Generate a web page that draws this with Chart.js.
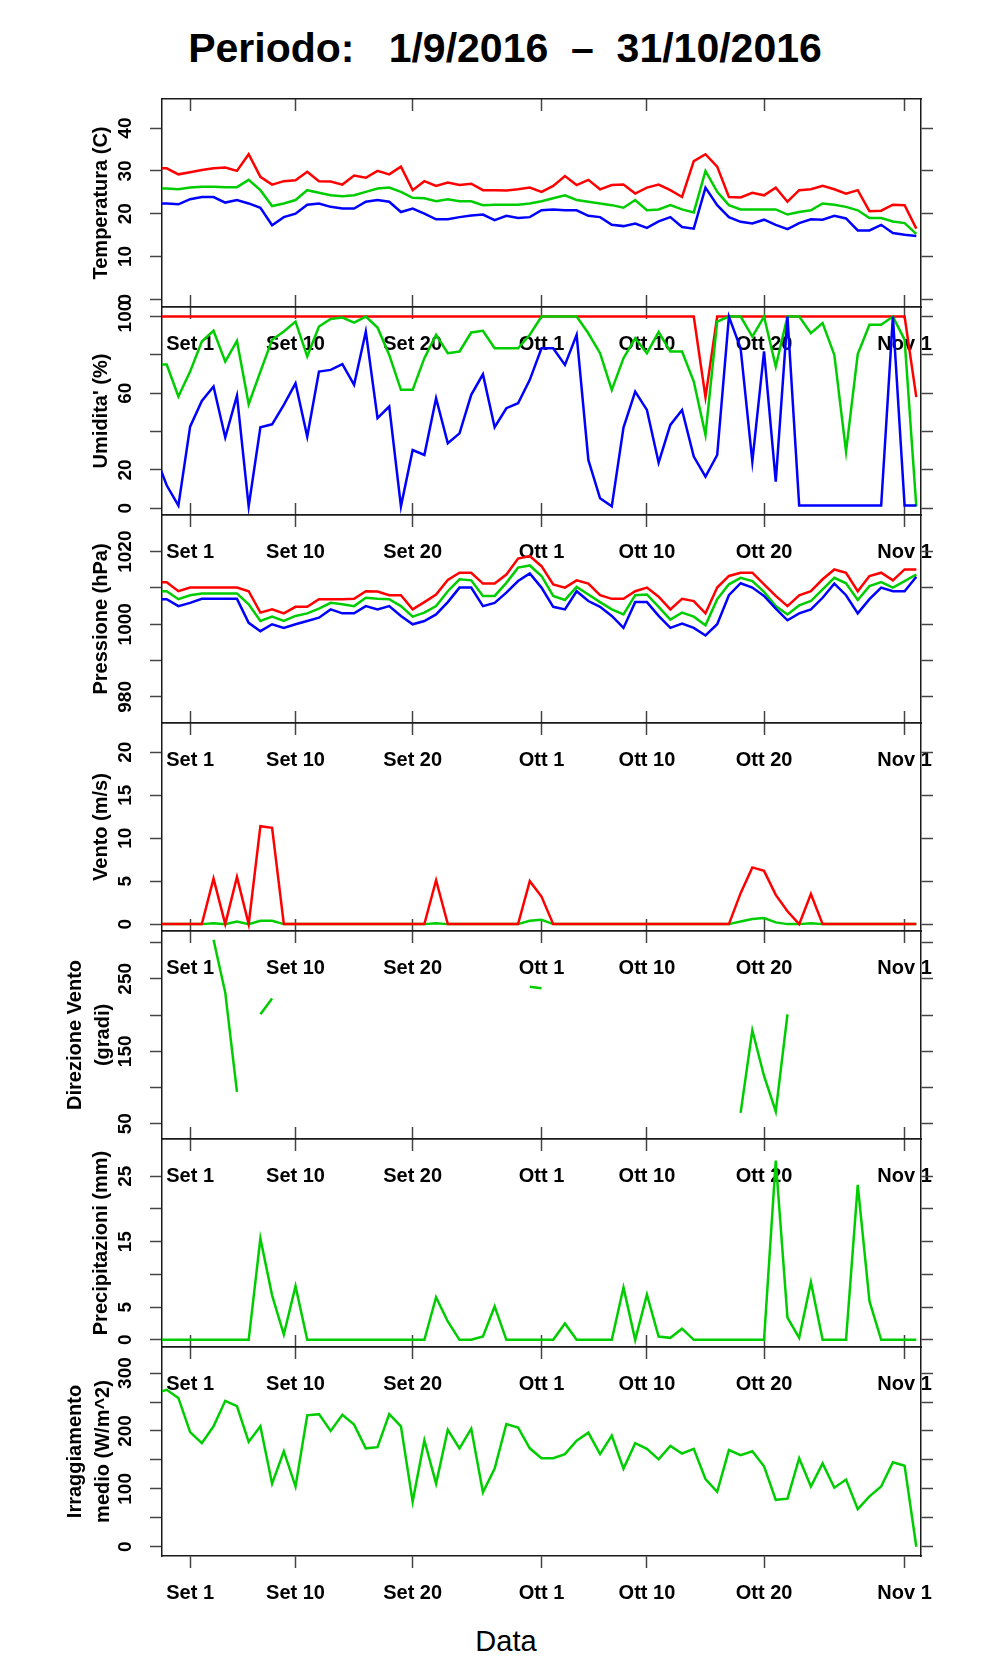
<!DOCTYPE html>
<html>
<head>
<meta charset="utf-8">
<title>Periodo 1/9/2016 - 31/10/2016</title>
<script src="https://cdn.jsdelivr.net/npm/chart.js"></script>
<style>
    body {
        margin: 0;
        background: #fff;
        font-family: "Liberation Sans", Arial, sans-serif;
    }
    #page {
        position: relative;
        width: 996px;
        height: 1680px;
        overflow: hidden;
        background: #fff;
    }
    .panel {
        position: absolute;
        left: 0;
    }
    #titolo {
        position: absolute;
        left: 0;
        top: 28px;
        width: 1010px;
        text-align: center;
        font-weight: bold;
        font-size: 41px;
        line-height: 41px;
        white-space: pre;
    }
    #data {
        position: absolute;
        left: 0;
        top: 1627px;
        width: 1012px;
        text-align: center;
        font-size: 29px;
        line-height: 29px;
    }
</style>
</head>
<body>

<div id="page">
    <div id="titolo">Periodo:   1/9/2016  –  31/10/2016</div>
    <div id="data">Data</div>
</div>

<script>
// giorni contati dal 1 settembre 2016 (-3 = 29 agosto ... 62 = 2 novembre)
const days = Array.from({ length: 66 }, (_, i) => i - 3);
const xTickDays = [0, 9, 19, 30, 39, 49, 61];
const xTickLabels = ['Set 1', 'Set 10', 'Set 20', 'Ott 1', 'Ott 10', 'Ott 20', 'Nov 1'];

// Temperatura (C)
const tempMax = [30.6, 30.6, 29.2, 29.7, 30.2, 30.6, 30.8, 30.0, 33.9, 28.6,
    26.8, 27.6, 27.8, 29.8, 27.6, 27.5, 26.8, 28.9, 28.4, 30.0,
    29.2, 31.0, 25.5, 27.6, 26.5, 27.3, 26.7, 27.0, 25.5, 25.5,
    25.4, 25.7, 26.1, 25.1, 26.5, 28.8, 26.7, 27.9, 25.7, 26.7,
    26.8, 24.7, 26.1, 26.8, 25.5, 23.9, 32.3, 33.9, 31.0, 23.9,
    23.8, 24.9, 24.3, 26.1, 22.8, 25.5, 25.7, 26.5, 25.7, 24.7,
    25.5, 20.6, 20.7, 22.1, 22.0, 16.5];
const tempMed = [25.9, 25.9, 25.7, 26.1, 26.3, 26.3, 26.2, 26.2, 27.9, 25.5,
    21.8, 22.4, 23.2, 25.5, 24.9, 24.3, 24.1, 24.3, 25.1, 25.9,
    26.1, 25.1, 23.7, 23.6, 22.9, 23.4, 22.9, 22.9, 22.0, 22.1,
    22.1, 22.1, 22.4, 22.9, 23.6, 24.3, 23.2, 22.8, 22.4, 22.0,
    21.4, 23.2, 20.8, 21.0, 22.0, 21.0, 20.3, 30.0, 25.1, 22.0,
    21.0, 21.0, 21.0, 21.0, 19.8, 20.4, 20.8, 22.4, 22.1, 21.6,
    20.8, 19.0, 19.0, 18.2, 17.8, 15.3];
const tempMin = [22.4, 22.4, 22.2, 23.4, 23.9, 23.9, 22.6, 23.2, 22.4, 21.4,
    17.3, 19.2, 20.0, 22.1, 22.4, 21.6, 21.2, 21.2, 22.8, 23.2,
    22.8, 20.4, 21.2, 20.0, 18.7, 18.7, 19.2, 19.6, 19.8, 18.5,
    19.5, 19.0, 19.2, 20.8, 21.0, 20.8, 20.8, 19.5, 19.2, 17.4,
    17.1, 17.7, 16.7, 18.2, 19.2, 16.9, 16.5, 26.1, 22.0, 19.2,
    18.1, 17.7, 18.6, 17.4, 16.4, 17.8, 18.7, 18.6, 19.5, 18.9,
    16.1, 16.1, 17.4, 15.5, 15.1, 14.8];

// Umidita' (%)
const umidMax = [100, 100, 100, 100, 100, 100, 100, 100, 100, 100,
    100, 100, 100, 100, 100, 100, 100, 100, 100, 100,
    100, 100, 100, 100, 100, 100, 100, 100, 100, 100,
    100, 100, 100, 100, 100, 100, 100, 100, 100, 100,
    100, 100, 100, 100, 100, 100, 100, 58, 100, 100,
    100, 100, 100, 100, 100, 100, 100, 100, 100, 100,
    100, 100, 100, 100, 100, 58];
const umidMed = [75, 75, 58.3, 71.3, 87.0, 92.6, 76.5, 87.3, 54.3, 71.3,
    87.9, 92.2, 97.4, 79.2, 94.8, 98.8, 99.5, 96.9, 100, 94.3,
    80.0, 61.8, 61.8, 78.3, 90.5, 80.9, 81.8, 91.7, 92.6, 83.5,
    83.5, 83.5, 90.5, 100, 100, 100, 100, 91.3, 80.9, 61.8,
    78.3, 88.7, 80.9, 91.9, 81.8, 81.8, 66.1, 38.3, 97.4, 100,
    100, 89.6, 100, 73.9, 100, 100, 91.3, 96.6, 80.0, 29.6,
    80.4, 95.7, 95.7, 100, 88, 1];
const umidMin = [28, 12, 1.4, 42.6, 56.0, 63.5, 36.9, 58.8, 1, 42.3,
    43.8, 53.9, 65.2, 37.4, 71.3, 72.2, 75.2, 64.4, 92.2, 47.0,
    53.1, 1, 30.4, 27.8, 57.4, 33.9, 39.1, 59.2, 69.9, 42.3,
    52.2, 54.8, 67.0, 83.5, 83.5, 74.8, 90.5, 25.2, 5.2, 1,
    42.1, 60.9, 51.3, 23.8, 43.5, 51.3, 27.0, 16.5, 27.8, 100,
    83.5, 24.4, 81.8, 13.9, 100, 1.4, 1.4, 1.4, 1.4, 1.4,
    1.4, 1.4, 1.4, 100, 1.4, 1.4];

// Pressione (hPa)
const pressMax = [1011.6, 1011.6, 1009.1, 1010.1, 1010.1, 1010.1, 1010.1, 1010.1, 1009.1, 1003.2,
    1004.1, 1003.0, 1004.8, 1004.8, 1006.9, 1006.9, 1006.9, 1007.0, 1009.1, 1009.0,
    1008.0, 1008.0, 1004.1, 1006.1, 1008.2, 1012.2, 1014.2, 1014.2, 1011.2, 1011.2,
    1013.7, 1018.1, 1018.8, 1016.0, 1011.0, 1010.1, 1012.1, 1011.2, 1008.0, 1007.0,
    1007.0, 1009.1, 1010.1, 1007.6, 1004.1, 1007.0, 1006.4, 1003.0, 1010.1, 1013.3,
    1014.2, 1014.2, 1011.0, 1007.8, 1005.0, 1008.0, 1009.1, 1012.4, 1015.1, 1014.2,
    1009.1, 1013.3, 1014.2, 1012.1, 1015.1, 1015.1];
const pressMed = [1009.1, 1009.1, 1006.9, 1008.0, 1008.5, 1008.5, 1008.5, 1008.5, 1005.5, 1000.9,
    1002.1, 1000.9, 1002.3, 1003.0, 1004.3, 1005.9, 1005.5, 1005.0, 1007.3, 1007.0,
    1006.9, 1005.0, 1002.1, 1003.2, 1005.0, 1009.1, 1012.4, 1012.1, 1007.8, 1007.8,
    1011.4, 1015.6, 1016.2, 1013.3, 1007.8, 1006.7, 1010.3, 1008.2, 1006.1, 1004.1,
    1002.7, 1008.0, 1008.2, 1004.8, 1001.3, 1003.2, 1002.1, 999.7, 1006.9, 1011.0,
    1012.8, 1011.9, 1008.9, 1005.0, 1002.7, 1005.2, 1006.4, 1009.6, 1012.8, 1011.3,
    1006.7, 1010.5, 1011.6, 1010.1, 1011.9, 1013.7];
const pressMin = [1006.9, 1006.9, 1005.0, 1005.9, 1007.0, 1007.0, 1007.0, 1007.0, 1000.4, 998.1,
    1000.0, 999.0, 1000.0, 1000.9, 1001.8, 1004.1, 1003.0, 1003.0, 1005.0, 1004.1,
    1005.0, 1002.3, 1000.0, 1000.9, 1002.7, 1006.1, 1010.1, 1010.1, 1005.0, 1005.9,
    1008.7, 1011.9, 1014.0, 1010.1, 1004.8, 1004.1, 1009.1, 1006.4, 1004.8, 1002.3,
    999.0, 1006.1, 1006.1, 1002.3, 999.0, 1000.2, 999.0, 996.9, 1000.0, 1008.0,
    1011.3, 1010.1, 1007.8, 1004.3, 1001.1, 1003.0, 1004.1, 1007.3, 1011.2, 1008.0,
    1003.0, 1006.9, 1010.1, 1009.1, 1009.1, 1013.1];

// Vento (m/s)
const ventoMax = [0, 0, 0, 0, 0, 5.3, 0, 5.5, 0, 11.4,
    11.2, 0, 0, 0, 0, 0, 0, 0, 0, 0,
    0, 0, 0, 0, 5.1, 0, 0, 0, 0, 0,
    0, 0, 5.0, 3.2, 0, 0, 0, 0, 0, 0,
    0, 0, 0, 0, 0, 0, 0, 0, 0, 0,
    3.6, 6.6, 6.2, 3.4, 1.5, 0, 3.5, 0, 0, 0,
    0, 0, 0, 0, 0, 0];
const ventoMed = [0, 0, 0, 0, 0, 0.1, 0, 0.3, 0, 0.4,
    0.4, 0, 0, 0, 0, 0, 0, 0, 0, 0,
    0, 0, 0, 0, 0.1, 0, 0, 0, 0, 0,
    0, 0, 0.4, 0.5, 0, 0, 0, 0, 0, 0,
    0, 0, 0, 0, 0, 0, 0, 0, 0, 0,
    0.3, 0.6, 0.7, 0.2, 0, 0, 0.1, 0, 0, 0,
    0, 0, 0, 0, 0, 0];

// Direzione vento (gradi), null = calma
const direzione = [null, null, null, null, null, 304, 231, 94, null, 201,
    223, null, null, null, null, null, null, null, null, null,
    null, null, null, null, null, null, null, null, null, null,
    null, null, 239, 237, null, null, null, null, null, null,
    null, null, null, null, null, null, null, null, null, null,
    65, 179, 116, 67, 201, null, null, null, null, null,
    null, null, null, null, null, null];

// Precipitazioni (mm)
const pioggia = [0, 0, 0, 0, 0, 0, 0, 0, 0, 15.5,
    6.8, 0.8, 8.2, 0, 0, 0, 0, 0, 0, 0,
    0, 0, 0, 0, 6.5, 2.8, 0, 0, 0.5, 5.1,
    0, 0, 0, 0, 0, 2.5, 0, 0, 0, 0,
    8.0, 0, 6.9, 0.5, 0.3, 1.7, 0, 0, 0, 0,
    0, 0, 0, 27.4, 3.4, 0.3, 8.8, 0, 0, 0,
    23.7, 5.9, 0, 0, 0, 0];

// Irraggiamento medio (W/m^2)
const irragg = [265, 271, 257, 198, 179, 208, 252, 243, 181, 208,
    109, 165, 104, 227, 229, 200, 228, 211, 170, 172,
    229, 208, 78, 184, 109, 202, 170, 204, 94, 135,
    212, 206, 170, 153, 153, 160, 183, 197, 160, 192,
    135, 179, 169, 151, 174, 161, 169, 117, 95, 167,
    158, 165, 139, 81, 83, 153, 104, 144, 102, 116,
    65, 87, 104, 146, 140, 0];

// tacche e etichette asse y
const tempTicks = [0, 10, 20, 30, 40];
const tempTickLabels = [0, 10, 20, 30, 40];
const umidTicks = [0, 20, 40, 60, 80, 100];
const umidTickLabels = [0, 20, 60, 100];
const pressTicks = [980, 990, 1000, 1010, 1020];
const pressTickLabels = [980, 1000, 1020];
const ventoTicks = [0, 5, 10, 15, 20];
const ventoTickLabels = [0, 5, 10, 15, 20];
const direzTicks = [50, 100, 150, 200, 250, 300];
const direzTickLabels = [50, 150, 250];
const pioggiaTicks = [0, 5, 10, 15, 20, 25];
const pioggiaTickLabels = [0, 5, 15, 25];
const irrTicks = [0, 50, 100, 150, 200, 250, 300];
const irrTickLabels = [0, 100, 200, 300];

const RED = '#ff0000';
const GREEN = '#00cd00';
const BLUE = '#0000ff';
const BOX = '#1a1a1a';
const TICK = '#444';
const FONT = '"Liberation Sans", Arial, sans-serif';
const Y_TICK_SIZE = 19;

// bordi verticali dei pannelli (px)
const bounds = [99, 307, 515, 723, 931, 1139, 1347, 1556];
const PAD_TOP = 40;
const X_AXIS_H = 70;
const LEFT_W = 162;
const RIGHT_W = 75;

// Chart.js disegna per ultima (sopra) la prima serie dell'elenco
const panels = [
    { title: 'Temperatura (C)', min: -1.8, max: 46.8, ticks: tempTicks, labels: tempTickLabels,
      series: [[tempMin, BLUE], [tempMed, GREEN], [tempMax, RED]] },
    { title: "Umidita' (%)", min: -3.5, max: 105, ticks: umidTicks, labels: umidTickLabels,
      series: [[umidMin, BLUE], [umidMed, GREEN], [umidMax, RED]] },
    { title: 'Pressione (hPa)', min: 972.8, max: 1030.1, ticks: pressTicks, labels: pressTickLabels,
      series: [[pressMin, BLUE], [pressMed, GREEN], [pressMax, RED]] },
    { title: 'Vento (m/s)', min: -0.8, max: 23.4, ticks: ventoTicks, labels: ventoTickLabels,
      series: [[ventoMax, RED], [ventoMed, GREEN]] },
    { title: ['Direzione Vento', '(gradi)'], min: 29, max: 316, ticks: direzTicks, labels: direzTickLabels,
      series: [[direzione, GREEN]] },
    { title: 'Precipitazioni (mm)', min: -1.1, max: 30.7, ticks: pioggiaTicks, labels: pioggiaTickLabels,
      series: [[pioggia, GREEN]] },
    { title: ['Irraggiamento', 'medio (W/m^2)'], min: -16, max: 345, ticks: irrTicks, labels: irrTickLabels,
      series: [[irragg, GREEN]] }
];

const measureCtx = document.createElement('canvas').getContext('2d');
function widestLabel(labels) {
    measureCtx.font = 'bold ' + Y_TICK_SIZE + 'px ' + FONT;
    return Math.max(...labels.map(l => measureCtx.measureText(String(l)).width));
}

function makePanel(i, cfg) {
    const last = i === panels.length - 1;
    const plotH = bounds[i + 1] - bounds[i];
    const div = document.createElement('div');
    div.className = 'panel';
    div.style.top = (bounds[i] - PAD_TOP) + 'px';
    const canvas = document.createElement('canvas');
    canvas.width = 996;
    canvas.height = PAD_TOP + plotH + X_AXIS_H;
    div.appendChild(canvas);
    document.getElementById('page').appendChild(div);

    const twoLines = Array.isArray(cfg.title);
    const titleLine = twoLines ? 28 : 24;
    const titleFirst = twoLines ? 75.5 : 101;

    const xCommon = {
        type: 'linear',
        min: -2.4,
        max: 62.4,
        bounds: 'data',
        afterBuildTicks: s => { s.ticks = xTickDays.map(v => ({ value: v })); },
        border: { color: BOX, width: 1.5 }
    };
    const yCommon = {
        min: cfg.min,
        max: cfg.max,
        bounds: 'data',
        afterBuildTicks: s => { s.ticks = cfg.ticks.map(v => ({ value: v })); },
        border: { color: BOX, width: 1.5 },
        grid: { drawOnChartArea: false, tickLength: 12, tickColor: TICK, tickWidth: 1.5 }
    };

    new Chart(canvas, {
        type: 'line',
        data: {
            datasets: cfg.series.map(([vals, color]) => ({
                data: days.map((d, k) => ({ x: d, y: vals[k] })),
                borderColor: color,
                borderWidth: 2.5,
                pointRadius: 0,
                tension: 0,
                fill: false,
                spanGaps: false
            }))
        },
        options: {
            responsive: false,
            animation: false,
            layout: { padding: { top: PAD_TOP, left: 0, right: 0, bottom: 0 }, autoPadding: false },
            plugins: { legend: { display: false }, tooltip: { enabled: false } },
            scales: {
                x: Object.assign({}, xCommon, {
                    position: 'bottom',
                    afterFit: s => { s.height = X_AXIS_H; },
                    grid: { drawOnChartArea: false, tickLength: last ? 12 : -12, tickColor: TICK, tickWidth: 1.5 },
                    ticks: {
                        autoSkip: false,
                        maxRotation: 0,
                        padding: last ? 13 : 37,
                        color: '#000',
                        font: { family: FONT, size: 20, weight: 'bold', lineHeight: 1.2 },
                        callback: v => xTickLabels[xTickDays.indexOf(v)]
                    }
                }),
                x2: Object.assign({}, xCommon, {
                    position: 'top',
                    afterFit: s => { s.height = 0; },
                    grid: { drawOnChartArea: false, tickLength: -12, tickColor: TICK, tickWidth: 1.5 },
                    ticks: { display: false }
                }),
                y: Object.assign({}, yCommon, {
                    position: 'left',
                    afterFit: s => { s.width = LEFT_W; },
                    ticks: {
                        autoSkip: false,
                        minRotation: 90,
                        maxRotation: 90,
                        crossAlign: 'center',
                        padding: 24 - widestLabel(cfg.labels) / 2,
                        color: '#000',
                        font: { family: FONT, size: Y_TICK_SIZE, weight: 'bold' },
                        callback: v => cfg.labels.includes(v) ? String(v) : ''
                    },
                    title: {
                        display: true,
                        text: cfg.title,
                        color: '#000',
                        font: { family: FONT, size: 20, weight: 'bold', lineHeight: titleLine / 20 },
                        padding: { top: titleFirst - titleLine / 2, bottom: 0 }
                    }
                }),
                y2: Object.assign({}, yCommon, {
                    position: 'right',
                    afterFit: s => { s.width = RIGHT_W; },
                    ticks: { display: false }
                })
            }
        }
    });
}

panels.forEach((cfg, i) => makePanel(i, cfg));
</script>

</body>
</html>
